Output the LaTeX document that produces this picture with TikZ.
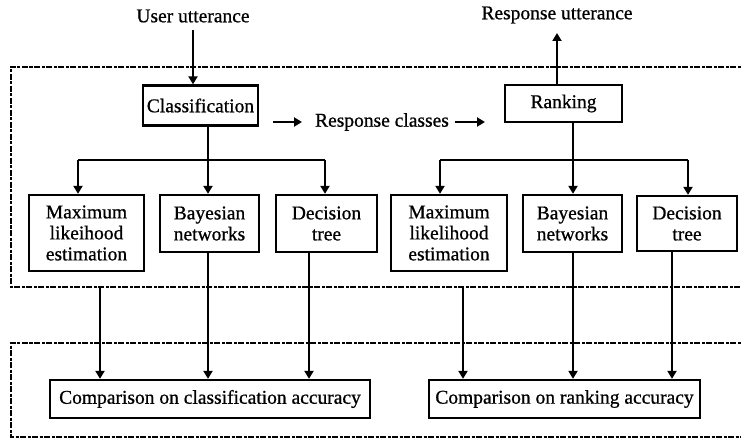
\documentclass[tikz,border=0pt]{standalone}
\usepackage{fontspec}
\setmainfont{Liberation Serif}
\newfontfamily\heavy[FakeBold=0.8]{Liberation Serif}
\usetikzlibrary{arrows.meta,calc}
\begin{document}
\begin{tikzpicture}[x=1pt,y=-1pt,
  every node/.style={font=\heavy\fontsize{19.5}{21}\selectfont},
  box/.style={draw,line width=2.3pt,inner sep=0pt,align=center},
  conn/.style={line width=2.3pt,-{Triangle[length=8pt,width=9pt]}},
  plain/.style={line width=2.3pt},
  frame/.style={line width=1.8pt,dash pattern=on 6pt off 1.5pt on 3pt off 1.5pt}]
\useasboundingbox (0,0) rectangle (741,438);
\begin{scope}
\clip (0,0) rectangle (741,438);
\draw[frame] (760,67) -- (11,67) -- (11,287) -- (760,287);
\draw[frame] (760,343) -- (11,343) -- (11,437) -- (760,437);
\end{scope}
% texts
\node (uu) at (193,16) {User utterance};
\node (ru) at (557,15) {Response utterance};
\node (rc) at (382,122) {Response classes};
% top boxes
\node[box,minimum width=115pt,minimum height=40pt] (cls) at (200.5,105.5) {Classification};
\node[box,minimum width=117pt,minimum height=37pt] (rank) at (563.5,103.5) {Ranking};
% left methods
\node[box,minimum width=115pt,minimum height=76pt] (mle1) at (86.5,233) {Maximum\\likeihood\\estimation};
\node[box,minimum width=99pt,minimum height=57pt] (bay1) at (209.5,223.5) {Bayesian\\networks};
\node[box,minimum width=101pt,minimum height=57pt] (dec1) at (326.5,223.5) {Decision\\tree};
% right methods
\node[box,minimum width=116pt,minimum height=76pt] (mle2) at (449,233) {Maximum\\likelihood\\estimation};
\node[box,minimum width=99pt,minimum height=57pt] (bay2) at (572.5,223.5) {Bayesian\\networks};
\node[box,minimum width=100pt,minimum height=55pt] (dec2) at (687,223.5) {Decision\\tree};
% comparison boxes
\node[box,minimum width=320pt,minimum height=38pt] (cmp1) at (210,399) {Comparison on classification accuracy};
\node[box,minimum width=271pt,minimum height=38pt] (cmp2) at (564.5,399) {Comparison on ranking accuracy};
% coordinates
\coordinate (j1) at (208,160);
\coordinate (j2) at (573,160);
\coordinate (a1) at (273,122);
\coordinate (b1) at (302,122);
\coordinate (a2) at (455,122);
\coordinate (b2) at (485,122);
\coordinate (m1) at (100,287);
\coordinate (m2) at (463,287);
\coordinate (uin) at (193,30);
\coordinate (rout) at (557,33);
% top arrows
\draw[conn] (uin) -- (uin |- cls.north);
\draw[conn] (rout |- rank.north) -- (rout);
\draw[conn] (a1) -- (b1);
\draw[conn] (a2) -- (b2);
% left tree
\draw[plain] (cls.south -| j1) -- (j1);
\draw[plain] (78,160) -- (325,160);
\draw[conn] (78,160) -- (78,0 |- mle1.north);
\draw[conn] (j1) -- (208,0 |- bay1.north);
\draw[conn] (325,160) -- (325,0 |- dec1.north);
% right tree
\draw[plain] (rank.south -| j2) -- (j2);
\draw[plain] (440,160) -- (688,160);
\draw[conn] (440,160) -- (440,0 |- mle2.north);
\draw[conn] (j2) -- (573,0 |- bay2.north);
\draw[conn] (688,160) -- (688,0 |- dec2.north);
% bottom connectors
\draw[conn] (m1) -- (m1 |- cmp1.north);
\draw[conn] (208,0 |- bay1.south) -- (208,0 |- cmp1.north);
\draw[conn] (309,0 |- dec1.south) -- (309,0 |- cmp1.north);
\draw[conn] (m2) -- (m2 |- cmp2.north);
\draw[conn] (573,0 |- bay2.south) -- (573,0 |- cmp2.north);
\draw[conn] (672,0 |- dec2.south) -- (672,0 |- cmp2.north);
\end{tikzpicture}
\end{document}
